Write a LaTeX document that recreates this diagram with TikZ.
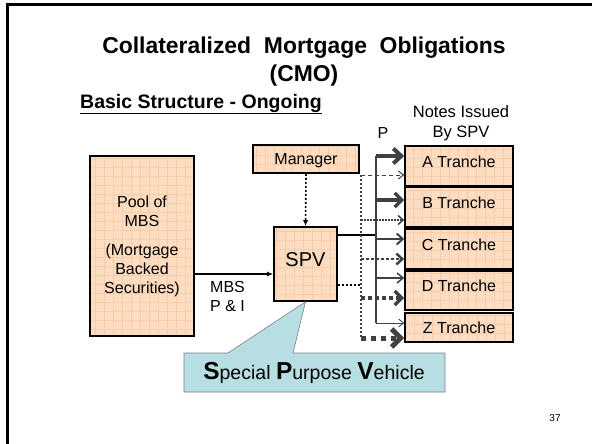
\documentclass[tikz,border=0pt]{standalone}
\usepackage{fontspec}
\setmainfont{Liberation Sans}
\usetikzlibrary{arrows.meta}
\definecolor{peach}{RGB}{252,221,194}
\definecolor{peachgrid}{RGB}{247,204,168}
\definecolor{spvblue}{RGB}{183,222,226}
\definecolor{arrowgray}{RGB}{64,64,64}
\newcommand{\bigini}[1]{{\fontsize{24.5}{24}\selectfont\bfseries #1}}
\tikzset{
	box/.style={draw=black, line width=1.6pt, fill=peach, inner sep=0pt, align=center,
		path picture={\draw[peachgrid, line width=0.4pt] (path picture bounding box.south west) grid[step=9pt] (path picture bounding box.north east);}},
	trbox/.style={box, minimum width=108pt, minimum height=#1, text height=12pt, text depth=10pt, font=\fontsize{16}{19}\selectfont},
	pline/.style={draw=arrowgray, line width=#1},
	iline/.style={draw=arrowgray, line width=#1, dash pattern=on #1 off #1},
	tip/.style 2 args={-{Straight Barb[length=#1, width=#2]}}
}
\begin{document}
\begin{tikzpicture}[x=1pt, y=-1pt, font=\fontsize{16}{19}\selectfont]
	\useasboundingbox (0,0) rectangle (592,444);
	% slide frame
	\draw[line width=2.5pt] (7.5,444) -- (7.5,4.5) -- (592,4.5);

	\node (title) at (304,62)	[font=\fontsize{22.9}{28}\selectfont\bfseries, align=center]	{Collateralized\ \ Mortgage\ \ Obligations\\(CMO)};
	\node (sub) at (80,109)	[anchor=base west, inner sep=0pt, font=\fontsize{19.5}{22}\selectfont\bfseries]	{Basic Structure - Ongoing};
	\draw[line width=1.6pt] ([yshift=-4.5pt]sub.base west) -- ([yshift=-4.5pt]sub.base east);
	\node (notes) at (461,123)	[align=center, font=\fontsize{16.5}{20}\selectfont]	{Notes Issued\\By SPV};
	\node (plbl) at (383,133)	[font=\fontsize{16}{18}\selectfont]	{P};

	\node (pool) at (142,246)	[box, minimum width=104pt, minimum height=180pt]	{Pool of\\MBS\\[10pt](Mortgage\\Backed\\Securities)};
	\node (mgr) at (306,159)	[box, minimum width=106pt, minimum height=28pt, text depth=0pt]	{Manager};
	\node (spv) at (305.5,264)	[box, minimum width=63pt, minimum height=74pt, text depth=8pt, font=\fontsize{20}{24}\selectfont]	{SPV};

	\node (trA) at (459,166)	[trbox=40pt]	{A Tranche};
	\node (trB) at (459,207)	[trbox=40pt]	{B Tranche};
	\node (trC) at (459,249)	[trbox=40pt]	{C Tranche};
	\node (trD) at (459,290.5)	[trbox=39pt]	{D Tranche};
	\node (trZ) at (459,327.5)	[trbox=29pt, text depth=0pt]	{Z Tranche};

	% cash in from the pool
	\coordinate (mbs) at (234,274);
	\draw[line width=1.6pt, -{Latex[length=6pt, width=5pt]}] (pool.east |- mbs) -- (spv.west |- mbs);
	\node (mbslbl) at (210,296.5)	[anchor=west, align=left, inner sep=0pt]	{MBS\\P \& I};

	\draw[line width=1.6pt, dash pattern=on 2pt off 2pt, -{Latex[length=6pt, width=5pt]}] (mgr.south) -- (spv.north);

	% principal
	\coordinate (pb) at (376,235);
	\coordinate (pA) at (376,156);
	\coordinate (pB) at (376,200);
	\coordinate (pC) at (376,239);
	\coordinate (pD) at (376,278);
	\coordinate (pZ) at (376,323);
	\draw[line width=1.6pt] (spv.east |- pb) -- (pb);
	\draw[pline=2pt] (pA) -- (pZ);
	\draw[pline=4pt, tip={8pt}{15pt}] (pA) -- (pA -| trA.west);
	\draw[pline=3.5pt, tip={7pt}{14pt}] (pB) -- (pB -| trB.west);
	\draw[pline=2pt, tip={6pt}{11pt}] (pC) -- (pC -| trC.west);
	\draw[pline=1.5pt, tip={6pt}{10pt}] (pD) -- (pD -| trD.west);
	\draw[pline=0.8pt, tip={5pt}{8pt}] (pZ) -- (pZ -| trZ.west);

	% interest
	\coordinate (ib) at (361,285);
	\coordinate (iA) at (361,175);
	\coordinate (iB) at (361,220);
	\coordinate (iC) at (361,259);
	\coordinate (iD) at (361,298);
	\coordinate (iZ) at (361,338);
	\draw[line width=2pt, dash pattern=on 2pt off 2pt] (spv.east |- ib) -- (ib);
	\draw[iline=2pt] (iA) -- (iZ);
	\draw[draw=arrowgray, line width=1pt, dash pattern=on 4pt off 3pt, tip={5pt}{8pt}] (iA) -- (iA -| trA.west);
	\draw[iline=1.5pt, tip={5pt}{9pt}] (iB) -- (iB -| trB.west);
	\draw[iline=2.5pt, tip={6pt}{11pt}] (iC) -- (iC -| trC.west);
	\draw[iline=3.5pt, tip={7pt}{14pt}] (iD) -- (iD -| trD.west);
	\draw[iline=5pt, tip={9pt}{18pt}] (iZ) -- (iZ -| trZ.west);

	% callout
	\draw[draw=gray, fill=spvblue, line width=0.6pt] (184,353) -- (228,353) -- (spv.south) -- (293,353) -- (445,353) -- (445,392) -- (184,392) -- cycle;
	\node (spvtxt) at (314,373)	[font=\fontsize{19.5}{22}\selectfont]	{\bigini{S}pecial \bigini{P}urpose \bigini{V}ehicle};

	\node (pgno) at (555,418)	[font=\fontsize{10}{12}\selectfont]	{37};
\end{tikzpicture}
\end{document}
